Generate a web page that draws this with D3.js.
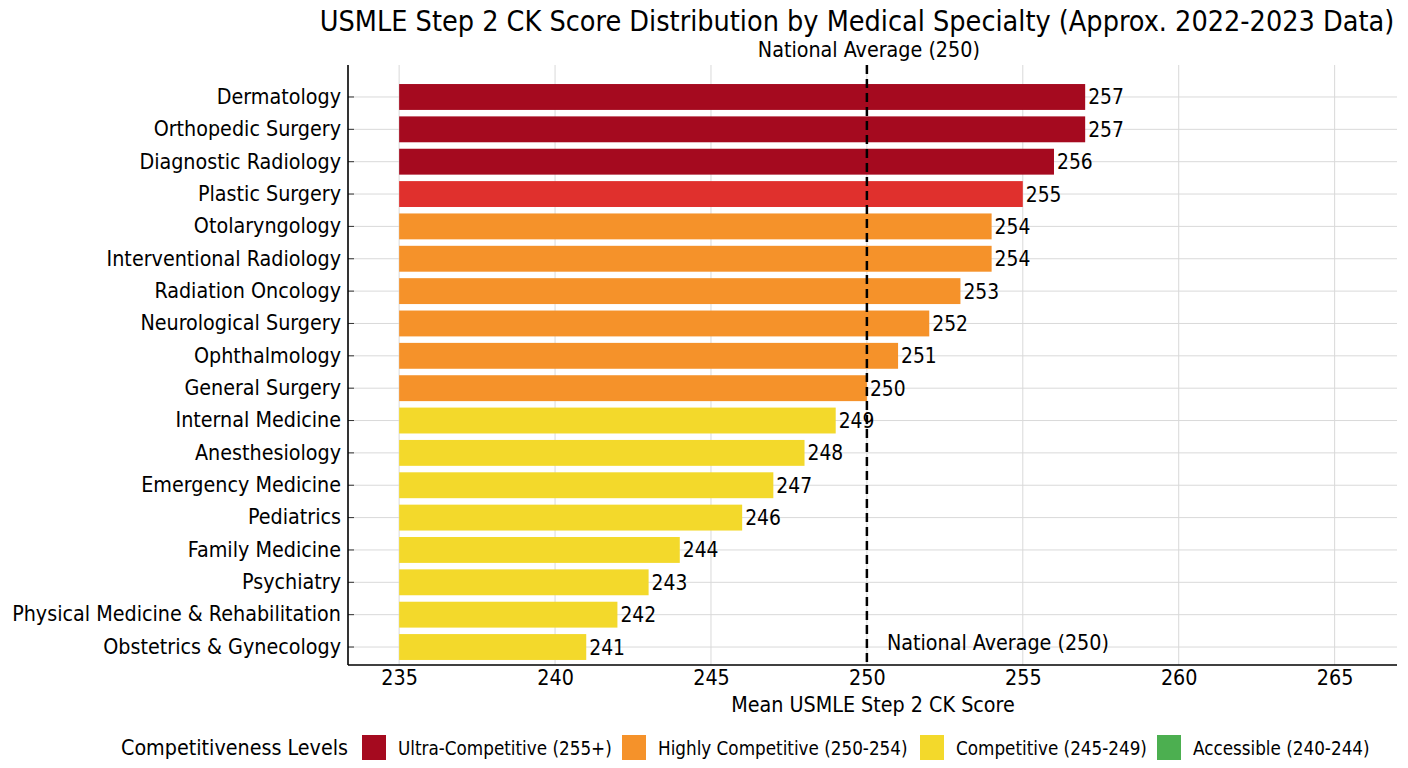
<!DOCTYPE html>
<html>
<head>
<meta charset="utf-8">
<script src="https://cdn.jsdelivr.net/npm/d3@7"></script>
<style>
  html, body { margin: 0; padding: 0; background: #fff; }
  svg { display: block; }
  text { font-family: "DejaVu Sans Condensed", "DejaVu Sans", sans-serif; fill: #000; }
</style>
</head>
<body>
<svg id="chart" width="1408" height="768"></svg>
<script>
const specialties = ["Dermatology","Orthopedic Surgery","Diagnostic Radiology","Plastic Surgery","Otolaryngology","Interventional Radiology","Radiation Oncology","Neurological Surgery","Ophthalmology","General Surgery","Internal Medicine","Anesthesiology","Emergency Medicine","Pediatrics","Family Medicine","Psychiatry","Physical Medicine & Rehabilitation","Obstetrics & Gynecology"];
const scores = [257,257,256,255,254,254,253,252,251,250,249,248,247,246,244,243,242,241];
const barColors = ["#a50a1f","#a50a1f","#a50a1f","#e0302d","#f5922a","#f5922a","#f5922a","#f5922a","#f5922a","#f5922a","#f3d92b","#f3d92b","#f3d92b","#f3d92b","#f3d92b","#f3d92b","#f3d92b","#f3d92b"];
const xTicks = [235,240,245,250,255,260,265];
const legendLabels = ["Ultra-Competitive (255+)","Highly Competitive (250-254)","Competitive (245-249)","Accessible (240-244)"];
const legendColors = ["#a50a1f","#f5922a","#f3d92b","#4caf50"];
const nationalAvg = 250;
const baseScore = 235;

const svg = d3.select("#chart");
const pLeft = 348, pRight = 1397, pTop = 65, pBottom = 665;
const fs = 21.3;

const x = d3.scaleLinear().domain([233.36, 267.0]).range([pLeft, pRight]);
const y = d3.scaleBand().domain(specialties).range([80.8, 663.2]).paddingInner(0.2).paddingOuter(0.1);

// grid
svg.append("g").selectAll("line").data(xTicks).join("line")
  .attr("x1", d => x(d)).attr("x2", d => x(d)).attr("y1", pTop).attr("y2", pBottom)
  .attr("stroke", "#d9d9d9").attr("stroke-width", 1);
svg.append("g").selectAll("line").data(specialties).join("line")
  .attr("x1", pLeft).attr("x2", pRight)
  .attr("y1", d => y(d) + y.bandwidth()/2).attr("y2", d => y(d) + y.bandwidth()/2)
  .attr("stroke", "#d9d9d9").attr("stroke-width", 1);

// bars
svg.append("g").selectAll("rect").data(specialties).join("rect")
  .attr("x", x(baseScore))
  .attr("y", d => y(d))
  .attr("width", (d, i) => x(scores[i]) - x(baseScore))
  .attr("height", y.bandwidth())
  .attr("fill", (d, i) => barColors[i]);

// national average line
svg.append("line")
  .attr("x1", x(nationalAvg)).attr("x2", x(nationalAvg)).attr("y1", pTop).attr("y2", pBottom)
  .attr("stroke", "#000").attr("stroke-width", 2.5).attr("stroke-dasharray", "9,5");

// value labels
svg.append("g").selectAll("text").data(specialties).join("text")
  .attr("x", (d, i) => x(scores[i]) + 3)
  .attr("y", d => y(d) + y.bandwidth()/2)
  .attr("dy", "0.36em")
  .attr("font-size", 20.8)
  .text((d, i) => scores[i]);

// axes
const yAxis = d3.axisLeft(y).tickSize(-6).tickPadding(8);
const yg = svg.append("g").attr("transform", `translate(${pLeft},0)`).call(yAxis);
yg.select(".domain").remove();
yg.selectAll("text").attr("font-size", fs).attr("font-family", null).attr("x", -7);
yg.selectAll(".tick line").attr("stroke", "#333");

const xAxis = d3.axisBottom(x).tickValues(xTicks).tickSize(0).tickPadding(5).tickFormat(d3.format("d"));
const xg = svg.append("g").attr("transform", `translate(0,${pBottom})`).call(xAxis);
xg.select(".domain").remove();
xg.selectAll("text").attr("font-size", fs).attr("font-family", null);

// spines
svg.append("line").attr("x1", pLeft).attr("x2", pLeft).attr("y1", pTop).attr("y2", pBottom).attr("stroke", "#000").attr("stroke-width", 1.6);
svg.append("line").attr("x1", pLeft).attr("x2", pRight).attr("y1", pBottom).attr("y2", pBottom).attr("stroke", "#000").attr("stroke-width", 1.6);

// titles
svg.append("text").attr("x", 857).attr("y", 31).attr("text-anchor", "middle").attr("font-size", 28.5)
  .text("USMLE Step 2 CK Score Distribution by Medical Specialty (Approx. 2022-2023 Data)");
svg.append("text").attr("x", x(nationalAvg) + 2).attr("y", 57).attr("text-anchor", "middle").attr("font-size", fs)
  .text("National Average (250)");
svg.append("text").attr("x", x(nationalAvg) + 20).attr("y", 650).attr("font-size", fs)
  .text("National Average (250)");
svg.append("text").attr("x", 873).attr("y", 712).attr("text-anchor", "middle").attr("font-size", fs)
  .text("Mean USMLE Step 2 CK Score");

// legend
const lg = svg.append("g");
lg.append("text").attr("x", 121).attr("y", 755).attr("font-size", fs).text("Competitiveness Levels");
const legendX = [362, 622, 920, 1157];
legendLabels.forEach((l, i) => {
  lg.append("rect").attr("x", legendX[i]).attr("y", 735).attr("width", 24).attr("height", 25).attr("fill", legendColors[i]);
  lg.append("text").attr("x", legendX[i] + 36).attr("y", 755).attr("font-size", 18.7).text(l);
});
</script>
</body>
</html>
